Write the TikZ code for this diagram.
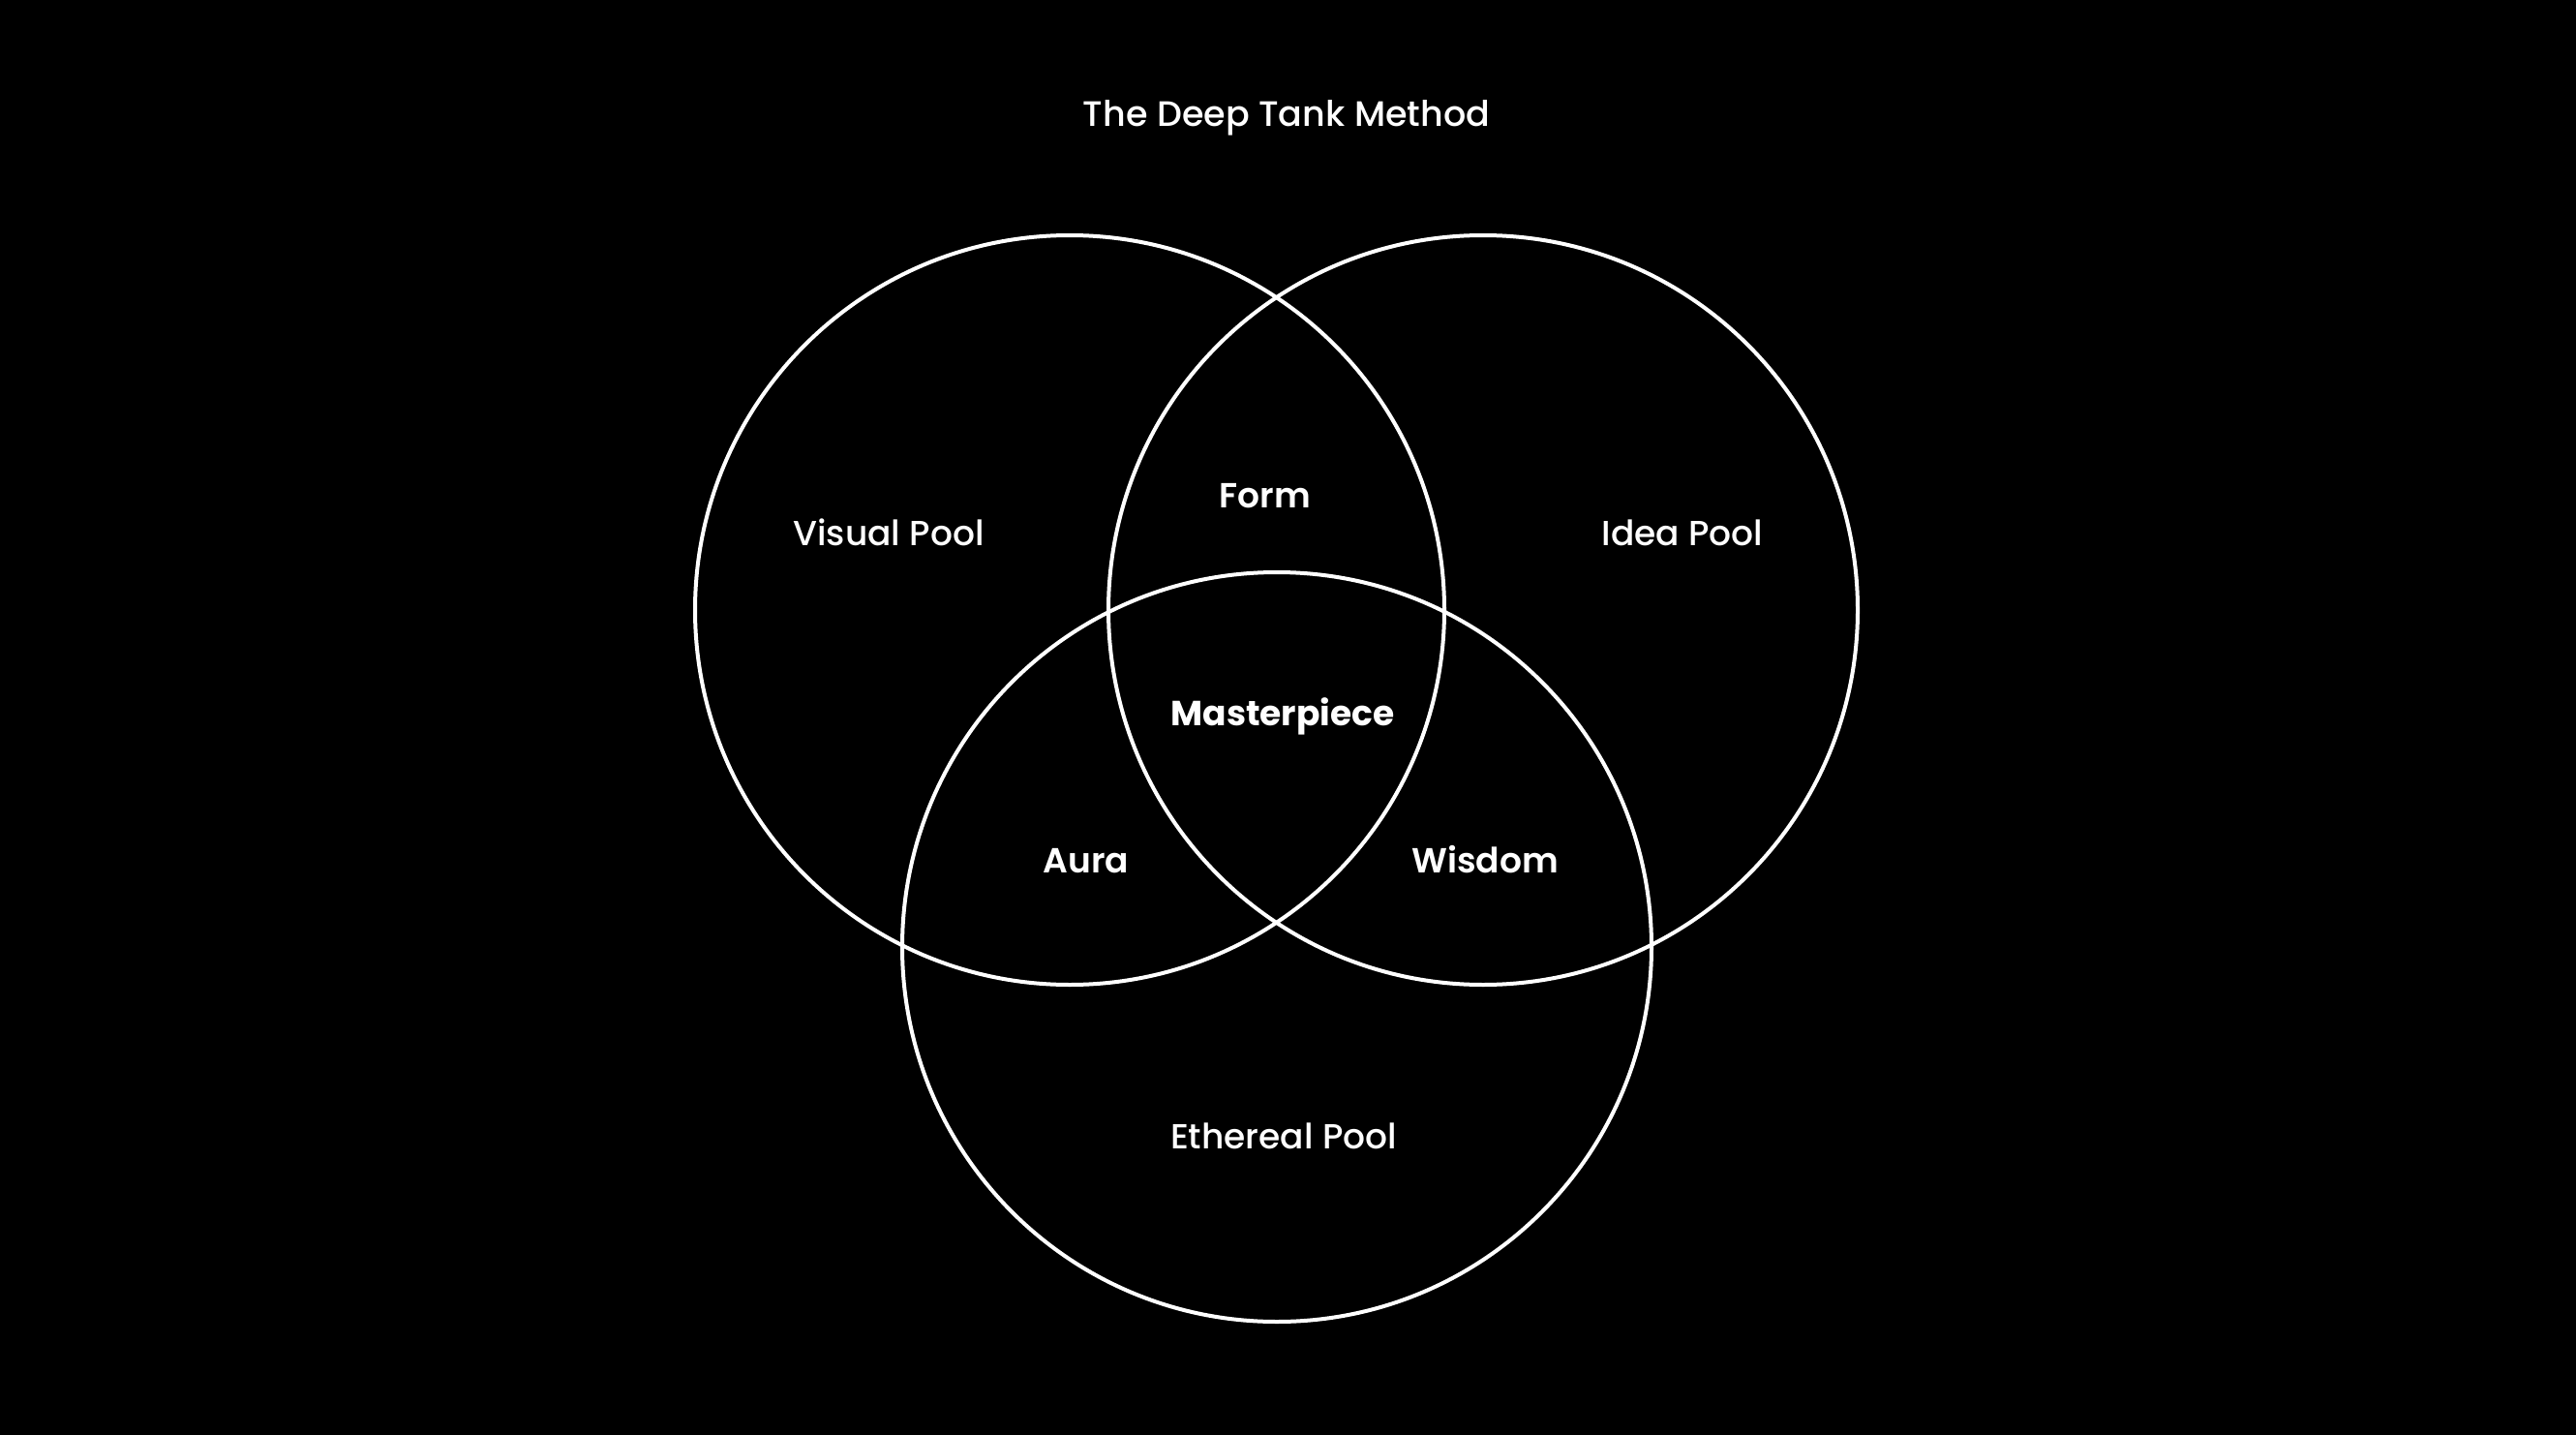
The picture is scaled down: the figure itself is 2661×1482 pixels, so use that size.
\documentclass[tikz,border=0pt]{standalone}
\usepackage{fontspec}
\setmainfont{Poppins Medium}
\newfontfamily\semibold{Poppins SemiBold}
\newfontfamily\heavy{Poppins Bold}
\usetikzlibrary{positioning}

\tikzset{
  pool/.style={draw=white, circle, line width=4pt, minimum size=774pt, inner sep=0pt},
  poollabel/.style={text=white, anchor=base, font=\fontsize{36}{40}\selectfont},
  overlap/.style={text=white, anchor=base, font=\fontsize{36}{40}\selectfont\semibold},
}

\begin{document}
\begin{tikzpicture}[x=1pt,y=-1pt]
\fill[black] (0,0) rectangle (2661,1482);
\useasboundingbox (0,0) rectangle (2661,1482);

\node[text=white, anchor=base, font=\fontsize{36.5}{40}\selectfont] (title) at (1329,131) {The Deep Tank Method};

\node[pool] (visual) at (1105,630) {}; %edit here for the left circle
\node[pool] (idea) at (1532,630) {}; %edit here for the right circle
\node[pool] (ethereal) at (1319,978) {}; %edit here for the bottom circle

\node[poollabel] (visuallbl) at (918,563) {Visual Pool};
\node[poollabel] (idealbl) at (1738,563) {Idea Pool};
\node[poollabel] (ethereallbl) at (1326,1186) {Ethereal Pool};

\node[overlap] (form) at (1307,524) {Form};
\node[overlap] (aura) at (1122,901) {Aura};
\node[overlap] (wisdom) at (1534,901) {Wisdom};
\node[overlap, font=\fontsize{36}{40}\selectfont\heavy] (masterpiece) at (1325,749) {Masterpiece};
\end{tikzpicture}
\end{document}
